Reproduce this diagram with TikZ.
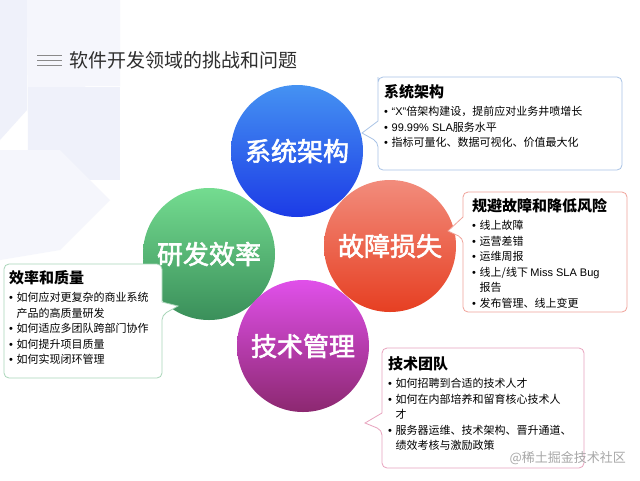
\documentclass[tikz,border=0pt]{standalone}
\usepackage{fontspec}
\setmainfont{Noto Sans CJK SC}
\newfontfamily\circfont{Noto Sans CJK SC}[FakeBold=2.2]
\newfontfamily\latfont{Liberation Sans}
\definecolor{bgshape}{HTML}{EFF1FA}
\definecolor{bgshapeb}{HTML}{F5F6FC}
\definecolor{titlegray}{HTML}{2E2E2E}
\definecolor{iconGray}{HTML}{8A8A8A}
\definecolor{blueL}{HTML}{4592F2}
\definecolor{blueD}{HTML}{1C3BE6}
\definecolor{redL}{HTML}{F28C7C}
\definecolor{redD}{HTML}{E63F22}
\definecolor{greenL}{HTML}{74DC90}
\definecolor{greenD}{HTML}{3A8F5A}
\definecolor{purpL}{HTML}{E050EA}
\definecolor{purpD}{HTML}{8C2870}
\definecolor{blueB}{HTML}{A9C3E6}
\definecolor{redB}{HTML}{F0A39A}
\definecolor{greenB}{HTML}{A9D6B9}
\definecolor{pinkB}{HTML}{E8A3BE}
\definecolor{wmgray}{HTML}{A8A8A8}
\newcommand{\bl}{\makebox[7.5pt][l]{\latfont •}}
\newcommand{\ind}{\hspace*{7.5pt}}
\tikzset{
  bigcircle/.style={circle, inner sep=0pt, minimum size=132pt, text=white,
    font=\circfont\fontsize{26}{30}\selectfont, shading angle=45},
  callout/.style={fill=white, line width=0.8pt, rounded corners=5pt},
  callouttext/.style={anchor=north west, inner sep=0pt, align=left,
    font=\fontsize{11}{15.5}\selectfont, text=black},
}
\newcommand{\ctitle}[1]{{\fontsize{15}{18}\selectfont\bfseries #1}\\[3pt]}
\begin{document}
\begin{tikzpicture}[x=1pt,y=-1pt]
\useasboundingbox (0,0) rectangle (640,480);
\fill[white] (0,0) rectangle (640,480);
% faint background shapes
\fill[bgshapeb] (30,0) -- (120,0) -- (120,86) -- (28,86) -- cycle;
\fill[bgshape] (0,0) -- (27,0) -- (27,110) -- (0,140) -- cycle;
\fill[bgshapeb] (27,0) -- (45,0) -- (100,70) -- (28,150) -- cycle;
\fill[bgshape] (28,87) rectangle (120,180);
\fill[bgshapeb] (0,150) -- (60,150) -- (110,200) -- (60,250) -- (0,260) -- cycle;
% title
\draw[iconGray, line width=0.8pt] (37,55) -- (62,55) (37,60) -- (62,60) (37,65) -- (62,65);
\node[anchor=west, inner sep=0pt, text=titlegray, font=\fontsize{19}{22}\selectfont] (title) at (69,60) {软件开发领域的挑战和问题};
% circles
\node[bigcircle, top color=blueL, bottom color=blueD] (sys) at (297,151) {系统架构};
\node[bigcircle, top color=greenL, bottom color=greenD] (eff) at (209,254) {研发效率};
\node[bigcircle, top color=redL, bottom color=redD] (risk) at (390,246) {故障损失};
\node[bigcircle, top color=purpL, bottom color=purpD] (mgmt) at (303,346) {技术管理};
% callout 1
\draw[callout, draw=blueB] (378,121) -- (378,82) -- (378,77) -- (622,77) -- (622,170) -- (378,170) -- (378,142) [sharp corners] -- (362,133) -- (378,121);
\node[callouttext] (t1) at (384,84) {\ctitle{系统架构}
\bl {\latfont “X”}倍架构建设，提前应对业务井喷增长\\
\bl {\latfont 99.99\% SLA}服务水平\\
\bl 指标可量化、数据可视化、价值最大化};
% callout 2
\draw[callout, draw=redB] (463,217) -- (463,192) -- (627,192) -- (627,312) -- (463,312) -- (463,238) [sharp corners] -- (448,231) -- (463,217);
\node[callouttext] (t2) at (472,198) {\ctitle{规避故障和降低风险}
\bl 线上故障\\
\bl 运营差错\\
\bl 运维周报\\
\bl 线上/线下 {\latfont Miss SLA Bug}\\
\ind 报告\\
\bl 发布管理、线上变更};
% callout 3
\draw[callout, draw=greenB] (162,302) -- (162,264) -- (4,264) -- (4,378) -- (162,378) -- (162,315) [sharp corners] -- (178,306) -- (162,302);
\node[callouttext] (t3) at (9,270) {\ctitle{效率和质量}
\bl 如何应对更复杂的商业系统\\
\ind 产品的高质量研发\\
\bl 如何适应多团队跨部门协作\\
\bl 如何提升项目质量\\
\bl 如何实现闭环管理};
% callout 4
\draw[callout, draw=pinkB] (382,413) -- (382,348) -- (584,348) -- (584,468) -- (382,468) -- (382,430) [sharp corners] -- (365,423) -- (382,413);
\node[callouttext] (t4) at (388,356) {\ctitle{技术团队}
\bl 如何招聘到合适的技术人才\\
\bl 如何在内部培养和留育核心技术人\\
\ind 才\\
\bl 服务器运维、技术架构、晋升通道、\\
\ind 绩效考核与激励政策};
% watermark
\node[anchor=east, inner sep=0pt, text=wmgray, font=\fontsize{13}{15}\selectfont] (wm) at (626,458) {@稀土掘金技术社区};
\end{tikzpicture}
\end{document}
